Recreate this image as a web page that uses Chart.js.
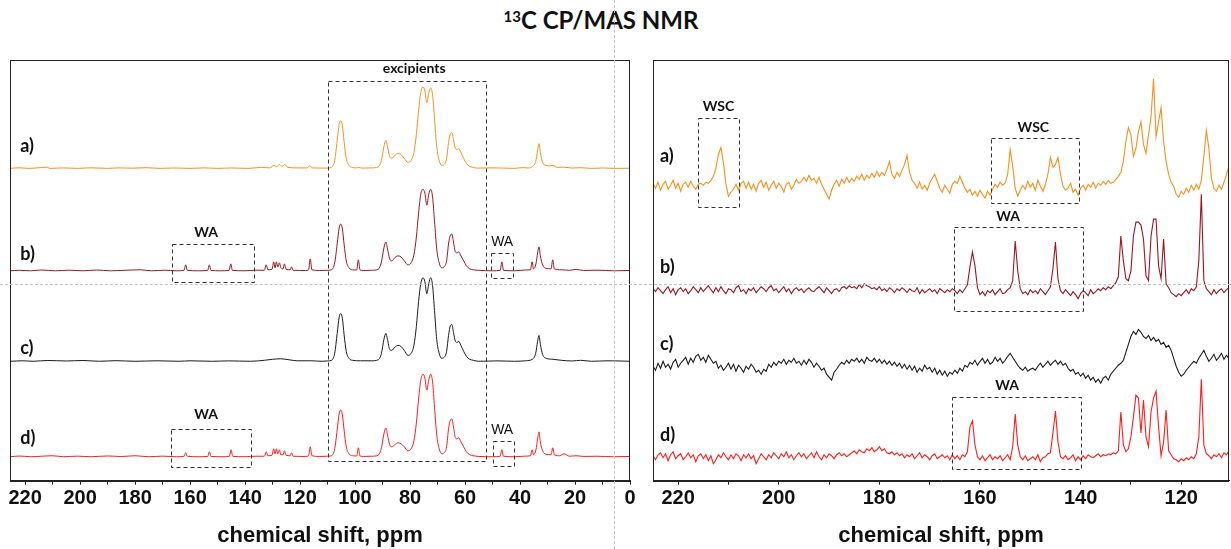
<!DOCTYPE html>
<html>
<head>
<meta charset="utf-8">
<script src="https://cdn.jsdelivr.net/npm/chart.js@4.4.1/dist/chart.umd.min.js"></script>
<style>
  html, body { margin: 0; padding: 0; background: #fff; }
  #page { position: relative; width: 1231px; height: 549px; overflow: hidden; }
  #title { position: absolute; top: 5px; left: 0; width: 1202px; text-align: center;
           font: bold 24px Lato, sans-serif; color: #111; }
  #title sup { font-size: 15px; vertical-align: 7px; }
  #leftBox { position: absolute; left: 0; top: 0; width: 640px; height: 549px; }
  #rightBox { position: absolute; left: 640px; top: 0; width: 591px; height: 549px; }
  #vGuide { position: absolute; left: 614px; top: 0; height: 549px; border-left: 1px dashed #c4c4c4; }
  #hGuide { position: absolute; left: 0; top: 284px; width: 1231px; border-top: 1px dashed #c4c4c4; }
</style>
</head>
<body>
<div id="page">
  <div id="title"><sup>13</sup>C CP/MAS NMR</div>
  <div id="leftBox"><canvas id="leftChart"></canvas></div>
  <div id="rightBox"><canvas id="rightChart"></canvas></div>
  <div id="vGuide"></div>
  <div id="hGuide"></div>
</div>
<script>
// ---- full range spectra, [ppm, intensity] ----
const leftA = [
  [225.5,0],[222,0.6],[219,0],[216,0.4],[212,1.2],[211,0],[206,0.5],[201,0],[196,0.6],[190,0],[186,0.5],[181,0.2],
  [176,0.7],[171,0],[166,0.4],[160,0],[155,0.5],[150,0],[145,0.4],[139,0],[134,1],[131,0.5],[129.5,3],[128.5,1.5],
  [127.5,4],[126.5,2],[125.5,4],[124.5,1],[121,0.5],[117.5,0.4],[116.5,2.5],[115.5,0.5],
  [110,0.3],[108.6,1],[107.4,8],[106.5,28],[105.8,44],[105.2,48],[104.6,43],[104,27],[103.2,10],[102.2,3],[101,1],
  [99.5,0.5],[98.7,1],[97.5,0.3],[94,0.5],[91.6,1.5],[90.4,8],[89.5,22],[88.8,28],[88.2,22],[87.4,12],[86.6,10],
  [85.6,13],[84.4,15],[83.3,14],[82.1,10],[80.8,6],[79.6,8],[78.6,16],[77.7,34],[76.9,58],[76.1,76],[75.3,82],
  [74.6,78],[73.9,66],[73.2,76],[72.5,81],[71.8,74],[71.1,50],[70.3,22],[69.4,8],[68.5,3],[67.6,4],[66.7,10],
  [66,26],[65.3,35],[64.8,36],[64.2,29],[63.5,20],[62.9,19],[62.3,20],[61.5,16],[60.5,10],[59.5,5],[58.3,2],[57,1],
  [55.5,0.3],[50,0.5],[46,0.3],[42,0],[39,0.8],[37,0.4],[35.5,2],[34.3,7],[33.6,18],[33.1,25],[32.6,16],[31.8,6],
  [30.5,3],[29.3,2.5],[28,3],[26.5,1],[24,1.2],[21,0.3],[18,0.7],[14,0],[10,0.4],[5,0],[0,0.2]
];
const leftB = [
  [225.5,0],[222,0.5],[218,0],[214,0.8],[209,0],[204,0.6],[199,0],[194,0.8],[189,0],[184,0.5],[178,1],[174,0],
  [169,0.6],[165,0],[162.2,0.5],[161.6,6],[161,0.5],[157,0],[153.6,0.5],[153,6],[152.4,0.4],[149,0],[145.8,0.5],
  [145.2,7],[144.6,0.4],[140,0],[136,0.6],[133,0.5],[132.3,6],[131.7,1],[130.2,1.5],[129.6,9],[129.1,3],[128.6,9],
  [128.1,4],[127.5,8],[127,3],[126.2,2],[125.7,7],[125.1,1.5],[123.6,1],[123.1,4],[122.5,0.5],[118,0.3],[116.9,1],
  [116.3,12],[115.7,1],[113,0.3],
  [110,0.5],[108.6,1],[107.4,8],[106.5,27],[105.8,43],[105.2,47],[104.6,42],[104,27],[103.2,10],[102.2,3],[101,1],
  [99.4,0.8],[98.8,11],[98.2,0.8],[97,0.3],[94,0.5],[91.6,1.5],[90.4,9],[89.5,23],[88.8,29],[88.2,22],[87.4,12],
  [86.6,10],[85.6,13],[84.4,15],[83.3,14],[82.1,10],[80.8,6],[79.6,8],[78.6,16],[77.7,34],[76.9,58],[76.1,77],
  [75.3,82],[74.6,78],[73.9,66],[73.2,77],[72.5,82],[71.8,74],[71.1,50],[70.3,22],[69.4,8],[68.5,3],[67.6,4],
  [66.7,10],[66,27],[65.3,36],[64.8,37],[64.2,29],[63.5,19],[62.9,18],[62.3,19],[61.5,15],[60.5,10],[59.5,5],
  [58.3,2],[57,1],[55,0.5],[50,0],[47.2,0.5],[46.6,9],[46,0.5],[42,0],[38,0.8],[36.2,1],[35.6,9],[35.1,2],
  [34.2,7],[33.6,18],[33.1,24],[32.6,15],[31.8,6],[30.5,2.5],[28.7,2],[28.1,11],[27.5,2],[25,1],[22,0.5],
  [19.6,1.5],[17,0.3],[12,0.6],[6,0],[0,0.3]
];
const leftC = [
  [225.5,0],[221,0.5],[217,0],[212,0.8],[205,0.3],[199,0.8],[193,0],[187,0.6],[180,0],[172,0.5],[164,0],[160,0.5],
  [152,0],[146,0.4],[138,0],[133,1],[130,2],[127,2.5],[124,1.5],[121,0.5],[116,0.5],[112,0],
  [110,0.3],[108.6,1],[107.4,8],[106.5,28],[105.8,44],[105.2,48],[104.6,43],[104,27],[103.2,10],[102.2,3],[101,1],
  [98,0.5],[94,0.5],[91.6,1.5],[90.4,8],[89.5,22],[88.8,28],[88.2,22],[87.4,12],[86.6,11],[85.6,14],[84.4,16],
  [83.3,15],[82.1,11],[80.8,6],[79.6,8],[78.6,16],[77.7,35],[76.9,60],[76.1,78],[75.3,84],[74.6,80],[73.9,68],
  [73.2,78],[72.5,84],[71.8,76],[71.1,51],[70.3,22],[69.4,8],[68.5,3],[67.6,4],[66.7,10],[66,26],[65.3,36],
  [64.8,37],[64.2,29],[63.5,20],[62.9,19],[62.3,20],[61.5,16],[60.5,10],[59.5,5],[58.3,2],[57,1],
  [55,0],[48,0.4],[42,0],[38,0.5],[35.5,2],[34.3,8],[33.6,20],[33.1,26],[32.6,17],[31.8,7],[30.5,3],[28,2],
  [25,1],[21,0.3],[18,1],[14,0],[8,0.5],[0,0]
];
const leftD = [
  [225.5,0],[222,0.7],[218,0],[214,0.5],[210,1],[206,0],[201,0.6],[196,0],[190,0.8],[185,0.2],[180,1],[175,0],
  [170,0.6],[165,0],[162.2,0.5],[161.6,4],[161,0.5],[157,0],[153.6,0.3],[153,5],[152.4,0.3],[148,0],[145.7,0.5],
  [145.1,7],[144.5,0.4],[140,0],[136,0.5],[133,0.5],[132.3,5],[131.7,1],[130.2,1.5],[129.6,8],[129.1,3],[128.6,8],
  [128.1,3],[127.5,7],[127,2],[126.2,2],[125.7,6],[125.1,1.5],[123.6,1],[123.1,4],[122.5,0.5],[118,0.3],[116.9,1],
  [116.3,10],[115.7,1],[113,0.3],
  [110,0.5],[108.6,1],[107.4,8],[106.5,27],[105.8,43],[105.2,47],[104.6,42],[104,27],[103.2,10],[102.2,3],[101,1],
  [99.4,0.8],[98.8,9],[98.2,0.8],[97,0.3],[94,0.5],[91.6,1.5],[90.4,9],[89.5,23],[88.8,29],[88.2,22],[87.4,12],
  [86.6,10],[85.6,12],[84.4,14],[83.3,13],[82.1,10],[80.8,6],[79.6,8],[78.6,16],[77.7,34],[76.9,58],[76.1,77],
  [75.3,83],[74.6,79],[73.9,67],[73.2,77],[72.5,83],[71.8,75],[71.1,50],[70.3,22],[69.4,8],[68.5,3],[67.6,4],
  [66.7,10],[66,28],[65.3,37],[64.8,38],[64.2,30],[63.5,19],[62.9,18],[62.3,19],[61.5,15],[60.5,10],[59.5,5],
  [58.3,2],[57,1],[55,0.3],[50,0],[47.2,0.5],[46.6,7],[46,0.5],[42,0],[38,0.6],[36.2,1],[35.6,7],[35.1,2],
  [34.2,7],[33.6,18],[33.1,25],[32.6,15],[31.8,6],[30.5,2.5],[28.7,2],[28.1,9],[27.5,2],[25.5,1],[24,3],[22,0.5],
  [19.6,1],[17,0.3],[12,0.5],[6,0],[0,0.3]
];

// ---- expanded region 225 -> 110.5 ppm, one value every 0.5 ppm ----
const RIGHT_START = 225;
const RIGHT_STEP = 0.5;
const rightA = [
  3,-2,4,-4,2,5,-3,1,6,-2,3,-5,2,4,-1,5,0,-3,2,3,
  1,4,3,6,10,18,32,39,24,2,-10,-6,-3,2,-4,3,5,-2,4,-3,
  2,-5,3,6,-1,4,-4,1,5,-2,3,0,-6,2,4,-3,1,7,3,5,
  9,5,11,6,8,3,9,2,-3,-8,-13,-4,2,6,0,7,3,9,4,8,
  5,10,7,12,6,11,8,13,9,15,10,14,11,17,25,12,8,14,10,16,
  22,31,14,6,3,-2,4,-3,1,-4,3,8,12,5,-2,-6,1,-3,-7,2,
  5,3,10,4,-2,-6,-3,-9,-5,-10,-4,-8,-12,-5,-9,-3,2,-1,4,1,
  3,12,37,20,-2,-10,-4,1,-3,5,-1,3,-4,6,0,-5,2,12,29,19,
  22,29,12,0,-4,-2,3,-6,-3,-9,-2,1,-4,2,-1,4,-2,3,1,5,
  2,6,3,4,7,10,14,25,45,59,52,30,38,55,65,42,33,52,70,108,
  50,65,79,45,25,12,4,0,-8,-11,-5,-8,-2,-6,1,-4,2,-3,6,30,
  56,38,8,-2,-5,1,-3,4,12,20
];
const rightB = [
  2,-1,3,0,-3,1,4,-2,2,-4,1,3,-1,2,-3,0,4,1,-2,3,
  -1,2,5,1,-2,3,-1,4,0,-3,2,1,-2,3,5,-1,1,-3,2,0,
  3,-2,1,4,2,-1,3,5,0,2,-2,1,4,-1,2,-3,1,3,0,2,
  -2,1,3,0,-1,2,4,1,-2,3,0,-3,1,2,-1,3,4,2,5,3,
  4,2,6,3,7,5,4,2,3,1,4,0,2,-1,3,1,-2,2,0,3,
  1,-2,2,0,-1,3,-3,1,-2,0,2,-1,1,-3,2,0,-2,1,-1,2,
  0,-3,1,-2,2,6,24,39,25,3,-4,-1,-5,0,-2,1,-4,-1,2,-3,
  -2,1,3,10,50,20,2,-3,-1,-4,1,-2,0,-3,2,-1,-4,0,4,22,
  49,12,0,-3,1,-2,-5,-1,-4,-8,-3,0,-2,-5,1,-3,-1,2,0,3,
  1,4,2,5,8,14,55,30,12,10,20,55,69,69,66,52,15,10,55,72,
  72,25,12,52,7,3,-2,-4,-6,-3,-5,-2,1,-3,2,0,4,30,97,10,
  2,-1,-4,1,-3,0,2,-2,1,3
];
const rightC = [
  0,-4,3,-2,5,-1,2,-3,4,7,-1,3,6,9,2,8,4,10,12,6,
  9,4,11,7,3,5,-2,1,-4,-1,3,-3,2,-5,1,-2,-6,0,-3,2,
  -1,-6,-4,-8,-3,-5,2,-1,4,1,5,3,7,2,6,4,8,3,5,1,
  6,2,7,4,-1,3,0,-4,-2,-8,-11,-14,-6,-3,1,4,2,6,3,7,
  5,8,4,7,3,9,6,5,8,4,7,3,6,2,5,1,4,0,3,-2,
  2,-3,1,-4,0,-6,-2,-5,1,-3,-1,-6,-2,-8,-4,-9,-5,-10,-6,-8,
  -4,-7,-2,-5,1,-1,4,2,6,1,5,8,3,7,2,4,9,5,8,3,
  6,10,13,9,5,1,-2,-4,-1,-5,-3,-2,-4,0,3,-1,2,5,1,4,
  6,2,5,1,3,-2,-5,-3,-8,-6,-10,-7,-12,-9,-14,-11,-16,-13,-17,-12,
  -10,-14,-8,-5,-2,1,3,6,14,22,30,35,32,37,34,30,28,31,26,29,
  25,27,22,24,19,21,16,8,0,-6,-10,-8,-4,-1,2,5,3,8,12,16,
  10,5,8,12,6,9,13,7,11,8
];
const rightD = [
  1,-3,2,4,-1,3,-4,2,5,-2,1,3,-3,0,4,-1,2,-5,1,3,
  -2,2,-4,1,-7,-3,2,-1,4,0,-3,2,-2,3,1,-4,2,-1,3,-2,
  1,-7,-2,3,0,-3,2,-1,4,1,-2,3,0,5,-1,2,-3,1,4,0,
  3,-2,1,4,-1,5,0,-3,2,-1,3,1,-2,2,4,1,3,0,2,4,
  6,3,7,5,4,8,6,9,5,7,10,6,8,4,3,5,2,4,1,3,
  -1,2,0,3,-2,1,4,-1,2,0,-3,1,3,-2,0,2,-1,1,-3,2,
  -2,1,-3,2,0,5,30,36,12,0,-3,1,-4,-1,2,-3,0,-2,1,-4,
  -1,2,-3,10,43,12,0,-3,1,-4,-2,0,-3,2,-5,-1,0,3,4,24,
  46,15,0,-2,1,-3,-1,2,-4,0,-3,1,-2,2,0,-1,1,3,0,2,
  1,3,2,4,3,6,45,12,5,8,20,40,62,59,24,57,20,10,45,59,
  66,30,1,15,47,6,2,-2,-3,-5,-2,-4,-1,-3,0,-2,3,20,78,12,
  3,1,-2,2,0,3,-1,4,2,6
];

const sampleNames = ['a)', 'b)', 'c)', 'd)'];
const tickStep = 10;

// stacking and look
const colors = ['#f7901e', '#9b1620', '#1c1c1c', '#ff1c1c'];
const leftOffsets = [314, 211, 120, 24];
const rightOffsets = [296, 191, 115, 24];
const AXIS_FONT = 'Liberation Sans, Arial, sans-serif';
const NOTE_FONT = 'Lato, sans-serif';

function stackPairs(pairs, offset) {
  return pairs.map(([ppm, h]) => ({ x: ppm, y: offset + h }));
}
function stackGrid(values, offset) {
  return values.map((h, i) => ({ x: RIGHT_START - i * RIGHT_STEP, y: offset + h }));
}

// frame, dashed boxes and text notes drawn over the traces
function notesPlugin(boxes, notes) {
  return {
    id: 'notes',
    afterDatasetsDraw(chart) {
      const { ctx, chartArea: a, scales: { x, y } } = chart;
      ctx.save();
      ctx.strokeStyle = '#222';
      ctx.lineWidth = 1;
      ctx.strokeRect(Math.round(a.left) + 0.5, Math.round(a.top) + 0.5,
                     Math.round(a.width) - 1, Math.round(a.height));
      ctx.setLineDash([4, 3]);
      ctx.strokeStyle = '#333';
      for (const b of boxes) {
        const x0 = Math.round(x.getPixelForValue(b.from));
        const x1 = Math.round(x.getPixelForValue(b.to));
        const y0 = Math.round(y.getPixelForValue(b.top));
        const y1 = Math.round(y.getPixelForValue(b.bottom));
        ctx.strokeRect(x0 + 0.5, y0 + 0.5, x1 - x0, y1 - y0);
      }
      ctx.setLineDash([]);
      ctx.fillStyle = '#111';
      ctx.textBaseline = 'middle';
      for (const t of notes) {
        ctx.font = t.font;
        ctx.textAlign = t.align || 'center';
        ctx.fillText(t.text, x.getPixelForValue(t.ppm), y.getPixelForValue(t.y));
      }
      ctx.restore();
    }
  };
}

function makeChart(canvasId, datasets, range, padding, width, boxes, notes) {
  return new Chart(document.getElementById(canvasId), {
    type: 'line',
    data: { datasets },
    options: {
      responsive: true,
      maintainAspectRatio: false,
      animation: false,
      layout: { padding },
      elements: { point: { radius: 0 }, line: { borderWidth: width } },
      plugins: { legend: { display: false }, tooltip: { enabled: false } },
      scales: {
        x: {
          type: 'linear',
          reverse: true,
          min: range[0],
          max: range[1],
          grid: { drawOnChartArea: false, drawTicks: true, tickLength: 4, color: '#222' },
          border: { display: true, color: '#222' },
          ticks: {
            stepSize: tickStep,
            includeBounds: false,
            autoSkip: false,
            maxRotation: 0,
            padding: 2,
            color: '#111',
            font: { family: AXIS_FONT, size: 20, weight: 'bold' },
            callback: (v) => (v % 20 === 0 ? String(v) : '')
          },
          title: {
            display: true,
            text: 'chemical shift, ppm',
            color: '#111',
            padding: { top: 10, bottom: 0 },
            font: { family: AXIS_FONT, size: 22, weight: 'bold' }
          }
        },
        y: { display: false, min: 0, max: 423 }
      }
    },
    plugins: [notesPlugin(boxes, notes)]
  });
}

const leftSets = [leftA, leftB, leftC, leftD].map((s, i) => ({
  data: stackPairs(s, leftOffsets[i]),
  borderColor: colors[i],
  cubicInterpolationMode: 'monotone'
}));
const rightSets = [rightA, rightB, rightC, rightD].map((s, i) => ({
  data: stackGrid(s, rightOffsets[i]),
  borderColor: colors[i],
  tension: 0
}));

const bold14 = 'bold 14px ' + NOTE_FONT;
const leftBoxes = [
  { from: 110, to: 52.4, top: 402, bottom: 20 },
  { from: 166.5, to: 136.7, top: 238, bottom: 200 },
  { from: 50.5, to: 42.5, top: 229, bottom: 204 },
  { from: 166.8, to: 137.8, top: 52, bottom: 14 },
  { from: 49.8, to: 42.2, top: 40, bottom: 15 }
];
const leftNotes = [
  { text: 'excipients', ppm: 78.5, y: 414, font: 'bold 14px ' + NOTE_FONT },
  { text: 'WA', ppm: 154.2, y: 250, font: bold14 },
  { text: 'WA', ppm: 46.5, y: 240, font: '14px ' + AXIS_FONT },
  { text: 'WA', ppm: 154.2, y: 66, font: bold14 },
  { text: 'WA', ppm: 46.5, y: 51, font: '14px ' + AXIS_FONT },
  ...sampleNames.map((n, i) => ({ text: n, ppm: 221.8, y: [336, 228, 133, 43][i], align: 'left', font: 'bold 18px ' + NOTE_FONT }))
];
const rightBoxes = [
  { from: 216, to: 208, top: 365, bottom: 275 },
  { from: 157.8, to: 140.3, top: 345, bottom: 279 },
  { from: 165.1, to: 139.5, top: 255, bottom: 171 },
  { from: 165.5, to: 139.9, top: 84, bottom: 12 }
];
const rightNotes = [
  { text: 'WSC', ppm: 212, y: 376, font: bold14 },
  { text: 'WSC', ppm: 149.4, y: 355, font: bold14 },
  { text: 'WA', ppm: 154.4, y: 266, font: bold14 },
  { text: 'WA', ppm: 154.6, y: 96, font: bold14 },
  ...sampleNames.map((n, i) => ({ text: n, ppm: 223.6, y: [326, 215, 137, 46][i], align: 'left', font: 'bold 18px ' + NOTE_FONT }))
];

makeChart('leftChart', leftSets, [0, 225.5], { left: 10, right: 10, top: 60, bottom: 0 }, 1, leftBoxes, leftNotes);
makeChart('rightChart', rightSets, [110.5, 225], { left: 13, right: 2, top: 60, bottom: 0 }, 1.1, rightBoxes, rightNotes);
</script>
</body>
</html>
